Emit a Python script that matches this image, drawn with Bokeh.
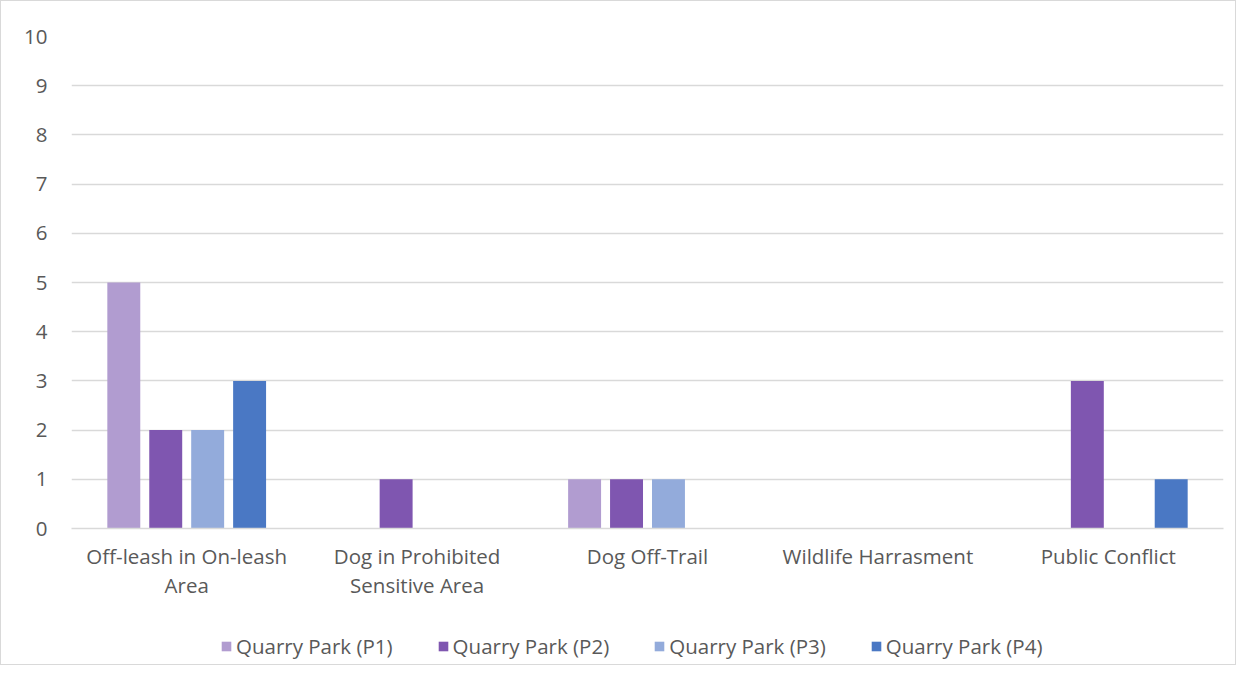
from bokeh.plotting import figure
from bokeh.layouts import column
from bokeh.models import ColumnDataSource, Range1d, FixedTicker, Legend, LegendItem
from bokeh.transform import dodge
from bokeh.embed import file_html
from bokeh.resources import INLINE

categories = ["Off-leash in On-leash\nArea", "Dog in Prohibited\nSensitive Area",
              "Dog Off-Trail", "Wildlife Harrasment", "Public Conflict"]
series_names = ["Quarry Park (P1)", "Quarry Park (P2)", "Quarry Park (P3)", "Quarry Park (P4)"]
p1 = [5, 0, 1, 0, 0]
p2 = [2, 1, 1, 0, 3]
p3 = [2, 0, 1, 0, 0]
p4 = [3, 0, 0, 0, 1]
colors = ["#B19CD0", "#7F56B0", "#93ABDB", "#4A78C4"]
y_ticks = list(range(0, 11))

FONT = "Open Sans"
FS = "20.5px"
TXT = "#595959"
GRID = "#D9D9D9"

xc = [i + 0.5 for i in range(len(categories))]
source = ColumnDataSource(data=dict(xc=xc, p1=p1, p2=p2, p3=p3, p4=p4))
keys = ["p1", "p2", "p3", "p4"]
offsets = [-0.273, -0.091, 0.091, 0.273]

p = figure(x_range=Range1d(0, len(categories)), y_range=Range1d(0, 10),
           width=1234, height=600, output_backend="svg", toolbar_location=None,
           min_border_left=70, min_border_right=12, min_border_top=35, min_border_bottom=73)
p.outline_line_color = None
p.background_fill_color = "white"
p.border_fill_color = "white"

for key, off, col in zip(keys, offsets, colors):
    p.vbar(x=dodge("xc", off), top=key, width=0.143, source=source,
           fill_color=col, line_color=None)

p.xgrid.grid_line_color = None
p.ygrid.grid_line_color = GRID
p.ygrid.grid_line_width = 1.3
p.yaxis.ticker = FixedTicker(ticks=y_ticks)
p.yaxis.axis_line_color = None
p.yaxis.major_tick_line_color = None
p.yaxis.minor_tick_line_color = None
p.yaxis.major_label_standoff = 18
p.xaxis.ticker = FixedTicker(ticks=xc)
p.xaxis.axis_line_color = GRID
p.xaxis.axis_line_width = 1.3
p.xaxis.major_tick_line_color = None
p.xaxis.minor_tick_line_color = None
p.xaxis.major_label_standoff = 7
p.xaxis.major_label_text_line_height = 1.05
p.xaxis.major_label_overrides = {x: l for x, l in zip(xc, categories)}
for ax in (p.xaxis, p.yaxis):
    ax.major_label_text_font = FONT
    ax.major_label_text_font_size = FS
    ax.major_label_text_color = TXT

# legend strip below the chart (its swatches come from the same series, drawn out of view)
lg = figure(x_range=Range1d(0, len(categories)), y_range=Range1d(100, 101),
            width=1234, height=63, output_backend="svg", toolbar_location=None,
            min_border=0, x_axis_type=None, y_axis_type=None)
lg.outline_line_color = None
lg.grid.grid_line_color = None
lg.border_fill_color = "white"
lg_renderers = []
for key, off, col in zip(keys, offsets, colors):
    r = lg.vbar(x=dodge("xc", off), top=key, width=0.143, source=source,
                fill_color=col, line_color=None)
    lg_renderers.append(r)

legend = Legend(items=[LegendItem(label=n, renderers=[r]) for n, r in zip(series_names, lg_renderers)],
                orientation="horizontal", location=(149, 4),
                label_text_font=FONT, label_text_font_size=FS, label_text_color=TXT,
                glyph_width=12, glyph_height=12, label_standoff=4, spacing=44,
                border_line_color=None, background_fill_alpha=0, margin=0, padding=0)
lg.add_layout(legend, "center")

layout = column(p, lg, spacing=0,
                styles={"border": "1px solid #D9D9D9", "background-color": "white"})

open("out.html", "w").write(file_html(layout, INLINE))
